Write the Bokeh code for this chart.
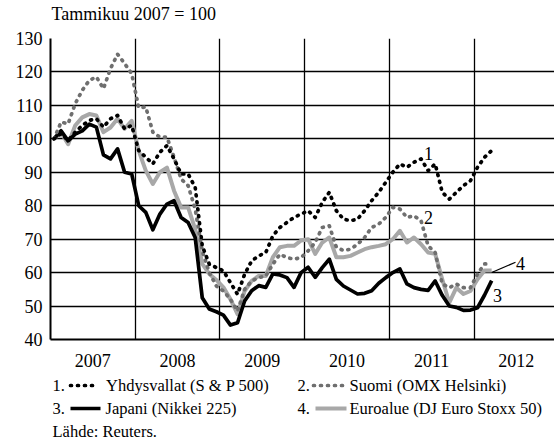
from bokeh.plotting import figure
from bokeh.models import Range1d, FixedTicker, CustomJSTickFormatter
from bokeh.layouts import column
from bokeh.embed import file_html
from bokeh.resources import INLINE
from bokeh.core.properties import value

FONT = "Liberation Serif"

# ---- data (monthly, Jan 2007 = 100) ----
start_year = 2007
year_labels = [2007, 2008, 2009, 2010, 2011, 2012]
y_ticks = [40, 50, 60, 70, 80, 90, 100, 110, 120, 130]

us = [100, 101.5, 99.5, 102, 104, 105.5, 106, 103.5, 106, 107, 103, 104,
      96.5, 94.5, 92.5, 96, 98, 94, 89.5, 89.5, 85.5, 68, 62.5, 61.5,
      60.5, 57, 53.5, 59.5, 63.5, 65, 66, 71, 73.5, 75, 76.5, 77.5,
      78.5, 76.5, 81, 84, 78.5, 76, 75.5, 76, 78.5, 81.5, 84, 87,
      90, 92.5, 91.5, 93, 94, 90.5, 92.5, 84, 82, 84, 86, 87.5,
      91.5, 94.5, 96.5]
fi = [100, 105, 104.5, 110.5, 114.5, 117.5, 118.5, 115, 121, 125.3, 122.5, 119.5,
      109.3, 109.5, 102, 100.5, 100.5, 94.5, 88, 86, 79, 66.5, 60, 56,
      54.5, 52, 48.5, 55, 57.5, 58.5, 59, 62.5, 65.5, 64.5, 64, 64.5,
      66.5, 69, 73.5, 74, 67.6, 66.6, 67, 68.5, 70.5, 73.5, 74.5, 76.5,
      79.5, 79, 76.5, 77, 75.5, 68, 66, 56.6, 55.5, 56.6, 55.5, 55.5,
      59.6, 62.6, 62.6]
jp = [100, 102.4, 99.4, 101.4, 102.4, 104.4, 103.5, 95.2, 94, 97, 90, 89.5,
      80, 78, 72.8, 77.5, 80.5, 81.5, 76.5, 75, 70.5, 52.5, 49.1, 48.3,
      47.3, 44.3, 45, 51.5, 54.6, 56.1, 55.6, 59.6, 59.3, 58.5, 55.6, 60,
      61.6, 58.6, 61.5, 64, 58, 56, 54.8, 53.6, 53.8, 54.6, 56.8, 58.5,
      60, 61.1, 56.6, 55.5, 55, 54.7, 57.5, 53.2, 50, 49.6, 48.7, 48.8,
      49.5, 53.3, 57.6]
eu = [100, 102, 98.4, 104, 106.4, 107.4, 107, 102, 103.4, 106, 103, 105.4,
      96.4, 90.5, 86.5, 90, 91.4, 84.5, 79.5, 79.5, 73, 62.6, 59.6, 57.8,
      55.6, 52, 47.6, 54.5, 57.5, 59, 59, 64.6, 67.6, 68, 68, 69.6,
      70, 65.6, 69, 70.5, 64.6, 64.6, 65, 66, 67, 67.6, 68, 68.5,
      70, 72.5, 69, 70.5, 68.5, 66, 65.6, 58, 51, 55.5, 53.6, 54.5,
      58, 60.6, 60.6]

t = [start_year + (m + 0.5) / 12 for m in range(len(us))]

W = 554
LEFT = 50
C_US, C_FI, C_JP, C_EU = "#000000", "#6f6f6f", "#000000", "#a8a8a8"
DOT = "1 6"


def blank(height):
    f = figure(width=W, height=height, x_range=Range1d(LEFT, W), y_range=Range1d(height, 0),
               x_axis_type=None, y_axis_type=None, toolbar_location=None, title=None,
               output_backend="svg", min_border_left=LEFT, min_border_right=0,
               min_border_top=0, min_border_bottom=0, outline_line_color=None)
    return f


# ---- header ----
header = blank(26)
header.text(x=[51], y=[13.2], text=["Tammikuu 2007 = 100"], text_font=value(FONT),
            text_font_size="18px", text_baseline="middle", text_color="#000000")

# ---- main chart ----
p = figure(width=W, height=348, x_range=Range1d(2007, 2007 + 504 / 84.7),
           y_range=Range1d(40, 130), toolbar_location=None, output_backend="svg",
           title=None, min_border_left=LEFT, min_border_right=0, min_border_top=12,
           min_border_bottom=35)
p.outline_line_color = None

p.xaxis.ticker = FixedTicker(ticks=[y + 0.5 for y in year_labels])
p.xaxis.formatter = CustomJSTickFormatter(code="return String(Math.floor(tick));")
p.xgrid.ticker = FixedTicker(ticks=year_labels[1:])
p.yaxis.ticker = FixedTicker(ticks=y_ticks)
for ax in (p.xaxis, p.yaxis):
    ax.major_tick_out = 0
    ax.major_tick_in = 0
    ax.minor_tick_out = 0
    ax.minor_tick_in = 0
    ax.axis_line_color = "#000000"
    ax.axis_line_width = 2
    ax.major_label_text_font = FONT
    ax.major_label_text_font_size = "18px"
    ax.major_label_text_color = "#000000"
p.xaxis.major_label_standoff = 14
p.yaxis.major_label_standoff = 8
for g in (p.xgrid, p.ygrid):
    g.grid_line_color = "#000000"
    g.grid_line_width = 1.3

p.line(t, eu, line_color=C_EU, line_width=4, line_join="round")
p.line(t, jp, line_color=C_JP, line_width=3.7, line_join="round")
p.line(t, fi, line_color=C_FI, line_width=3.7, line_dash=DOT, line_cap="round", line_join="round")
p.line(t, us, line_color=C_US, line_width=3.7, line_dash=DOT, line_cap="round", line_join="round")

p.text(x=[2011.463, 2011.463, 2012.277, 2012.549], y=[95.6, 76.4, 53.1, 62.7],
       text=["1", "2", "3", "4"], text_font=value(FONT), text_font_size="18px",
       text_align="center", text_baseline="middle", text_color="#000000")
p.line([2012.215, 2012.49], [60.1, 63.1], line_color="#000000", line_width=1.2)

# ---- legend ----
leg = blank(70)
r1, r2, r3 = 11, 34, 57
leg.text(x=[52, 105.6, 297, 349, 52, 105, 297, 349, 52],
         y=[r1, r1, r1, r1, r2, r2, r2, r2, r3],
         text=["1.", "Yhdysvallat (S & P 500)", "2.", "Suomi (OMX Helsinki)",
               "3.", "Japani (Nikkei 225)", "4.", "Euroalue (DJ Euro Stoxx 50)",
               "Lähde: Reuters."],
         text_font=value(FONT), text_font_size="16.5px", text_baseline="middle",
         text_color="#000000")
leg.line([70, 98], [r1, r1], line_color=C_US, line_width=3.7, line_dash=DOT, line_cap="round")
leg.line([313, 344], [r1, r1], line_color=C_FI, line_width=3.7, line_dash=DOT, line_cap="round")
leg.line([70, 100], [r2, r2], line_color=C_JP, line_width=3.7)
leg.line([315, 346], [r2, r2], line_color=C_EU, line_width=4)

layout = column(header, p, leg, spacing=0)
open("out.html", "w").write(file_html(layout, INLINE))
